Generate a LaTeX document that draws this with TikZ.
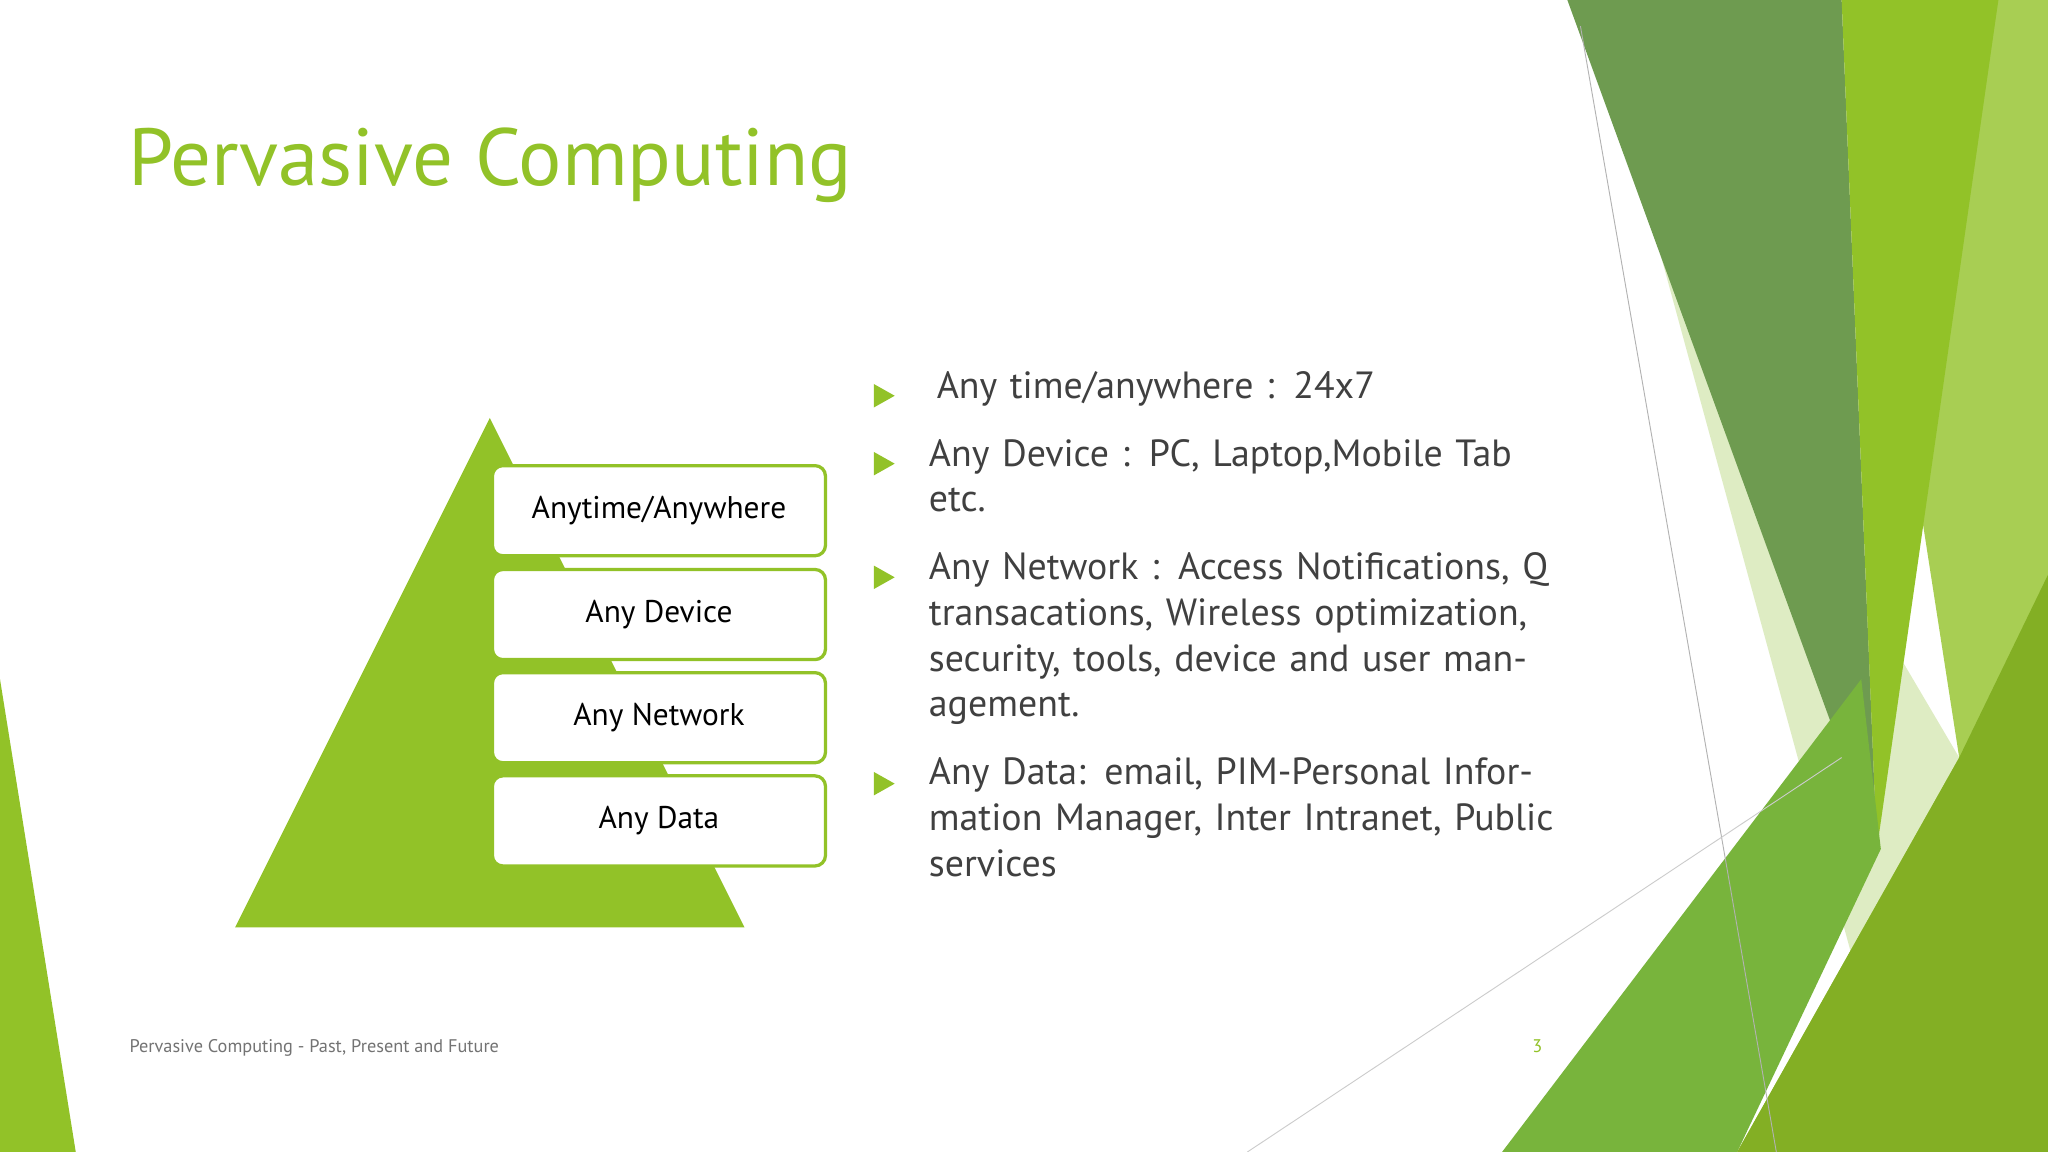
\documentclass[tikz,border=0pt]{standalone}
\usepackage{fontspec}
\setmainfont{PT Sans}
\definecolor{lg}{RGB}{146,194,40}
\definecolor{dg}{RGB}{110,155,80}
\definecolor{mg}{RGB}{120,180,60}
\definecolor{pg}{RGB}{222,236,195}
\definecolor{tx}{RGB}{64,64,64}
\tikzset{box/.style={draw=lg,line width=2.5pt,rounded corners=8pt,fill=white,minimum width=255pt,minimum height=69pt,inner sep=0pt,font=\fontsize{24}{28}\selectfont},
bul/.style={fill=lg,draw=none},
btxt/.style={anchor=north west,align=left,text width=490pt,inner sep=0pt,font=\fontsize{29}{35}\selectfont,text=tx}}
\begin{document}
\begin{tikzpicture}[x=1pt,y=-1pt]
\useasboundingbox (0,0) rectangle (1568,882);
\fill[white] (0,0) rectangle (1568,882);
% right facets
\fill[pg] (1270,190) -- (1500,580) -- (1420,740) -- cycle;
\fill[lg!80] (1410,0) -- (1568,0) -- (1568,882) -- (1330,882) -- (1500,580) -- cycle;
\fill[dg] (1200,0) -- (1410,0) -- (1437,650) -- cycle;
\fill[lg] (1410,0) -- (1530,0) -- (1437,650) -- cycle;
\fill[mg] (1150,882) -- (1425,520) -- (1440,650) -- (1330,882) -- cycle;
\fill[lg!90!black] (1330,882) -- (1500,580) -- (1568,440) -- (1568,882) -- cycle;
\draw[gray!60,line width=0.7pt] (1210,20) -- (1360,882);
\draw[gray!40,line width=0.7pt] (955,882) -- (1410,580);
% left strip
\fill[lg] (0,520) -- (58,882) -- (0,882) -- cycle;
% title
\node[anchor=base west,inner sep=0pt,text=lg,font=\fontsize{62}{70}\selectfont] (title) at (98,142) {Pervasive Computing};
% pyramid
\fill[lg] (375,320) -- (570,710) -- (180,710) -- cycle;
\node[box] (b1) at (504.5,391) {Anytime/Anywhere};
\node[box] (b2) at (504.5,470.5) {Any Device};
\node[box] (b3) at (504.5,549.5) {Any Network};
\node[box] (b4) at (504.5,628.5) {Any Data};
% bullets
\foreach \y in {303,355,442,600}{\fill[lg] (669,\y-9) -- (685,\y) -- (669,\y+9) -- cycle;}
\node[btxt] (t1) at (717,284) {Any time/anywhere : 24x7};
\node[btxt] (t2) at (711,336) {Any Device : PC, Laptop,Mobile Tab etc.};
\node[btxt] (t3) at (711,423) {Any Network : Access Notifications, Q transacations, Wireless optimization, security, tools, device and user management.};
\node[btxt] (t4) at (711,580) {Any Data: email, PIM-Personal Information Manager, Inter Intranet, Public services};
% footer
\node[anchor=base west,inner sep=0pt,text=gray!90!black,font=\fontsize{14}{16}\selectfont] (foot) at (99,806) {Pervasive Computing - Past, Present and Future};
\node[anchor=base,inner sep=0pt,text=lg,font=\fontsize{14}{16}\selectfont] (pg) at (1177,806) {3};
\end{tikzpicture}
\end{document}
